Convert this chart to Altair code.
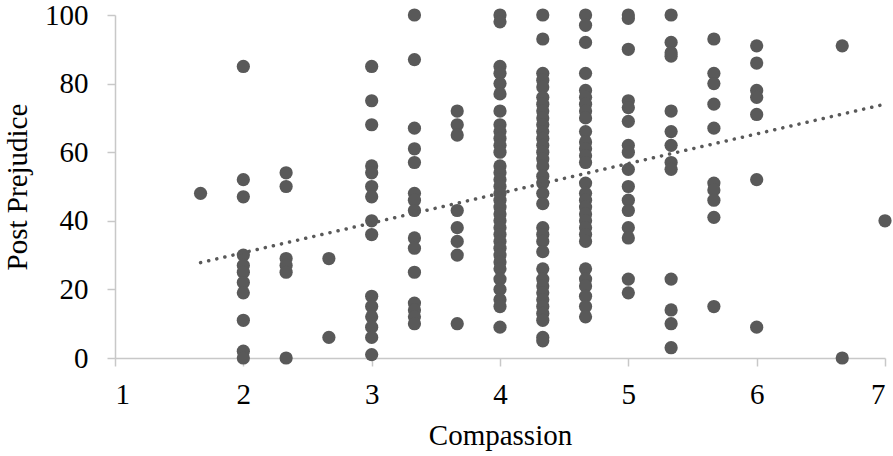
import altair as alt
import pandas as pd

# Post-prejudice scores grouped by compassion score (means of three items)
compassion_levels = [5/3, 2, 7/3, 8/3, 3, 10/3, 11/3, 4, 13/3, 14/3, 5, 16/3, 17/3, 6, 20/3, 7]

prejudice_by_level = [
    [48],
    [85, 52, 47, 30, 27, 25, 22, 19, 11, 2, 0],
    [54, 50, 29, 27, 25, 0],
    [29, 6],
    [85, 75, 68, 56, 54, 50, 47, 40, 36, 18, 15, 12, 9, 6, 1],
    [100, 87, 67, 61, 57, 48, 46, 43, 35, 32, 25, 16, 14, 12, 10],
    [72, 68, 65, 43, 38, 34, 30, 10],
    [100, 98, 85, 83, 80, 77, 72, 68, 66, 64, 62, 60, 56, 54, 52, 50, 48, 46,
     44, 42, 40, 38, 36, 34, 32, 30, 28, 26, 23, 20, 17, 15, 9],
    [100, 93, 83, 81, 79, 76, 74, 72, 70, 68, 66, 64, 62, 60, 58, 56, 53, 51,
     48, 45, 38, 36, 34, 31, 26, 23, 21, 19, 17, 15, 13, 11, 6, 5],
    [100, 97, 92, 83, 78, 76, 74, 72, 70, 66, 63, 61, 59, 57, 51, 48, 46, 44,
     42, 40, 38, 36, 34, 26, 23, 21, 18, 15, 12],
    [100, 99, 90, 75, 73, 69, 62, 60, 55, 50, 46, 43, 38, 35, 23, 19],
    [100, 92, 89, 88, 72, 66, 62, 57, 55, 23, 14, 10, 3],
    [93, 83, 80, 74, 67, 51, 49, 46, 41, 15],
    [91, 86, 78, 76, 71, 52, 9],
    [91, 0],
    [40],
]

# Linear trend line endpoints (fitted over the observed compassion range)
trend_compassion = [5/3, 7]
trend_prejudice = [27.8, 74.0]

x_ticks = [1, 2, 3, 4, 5, 6, 7]
y_ticks = [0, 20, 40, 60, 80, 100]

rows = [
    {"Compassion": c, "Post Prejudice": p}
    for c, vals in zip(compassion_levels, prejudice_by_level)
    for p in vals
]
df = pd.DataFrame(rows)
trend_df = pd.DataFrame({"Compassion": trend_compassion, "Post Prejudice": trend_prejudice})

font = "Liberation Serif"
axis_grey = "#c8c8c8"
point_grey = "#595959"

x_enc = alt.X(
    "Compassion:Q",
    scale=alt.Scale(domain=[1, 7], nice=False, zero=False),
    axis=alt.Axis(values=x_ticks, format="d", title="Compassion"),
)
y_enc = alt.Y(
    "Post Prejudice:Q",
    scale=alt.Scale(domain=[0, 100], nice=False),
    axis=alt.Axis(values=y_ticks, format="d", title="Post Prejudice"),
)

points = alt.Chart(df).mark_circle(size=175, color=point_grey, opacity=1).encode(
    x=x_enc, y=y_enc
)

trend = (
    alt.Chart(trend_df)
    .mark_line(color=point_grey, strokeWidth=3.5, strokeDash=[0.1, 8.2], strokeCap="round")
    .encode(x="Compassion:Q", y="Post Prejudice:Q")
)

chart = (
    alt.layer(points, trend)
    .properties(
        width=770,
        height=343,
        autosize=alt.AutoSizeParams(type="none"),
        padding={"left": 115, "top": 15, "right": 8, "bottom": 98},
    )
    .configure_view(stroke=None)
    .configure_axis(
        grid=False,
        domainColor=axis_grey,
        domainWidth=1.5,
        tickColor=axis_grey,
        tickWidth=1.5,
        tickSize=8,
        labelFont=font,
        labelFontSize=29,
        labelColor="#000000",
        titleFont=font,
        titleFontSize=29,
        titleFontWeight="normal",
        titleColor="#000000",
    )
    .configure_axisX(labelPadding=14, titlePadding=12)
    .configure_axisY(labelPadding=19, titlePadding=12)
)

chart.save("out.html", embed_options={"renderer": "svg", "actions": False})
